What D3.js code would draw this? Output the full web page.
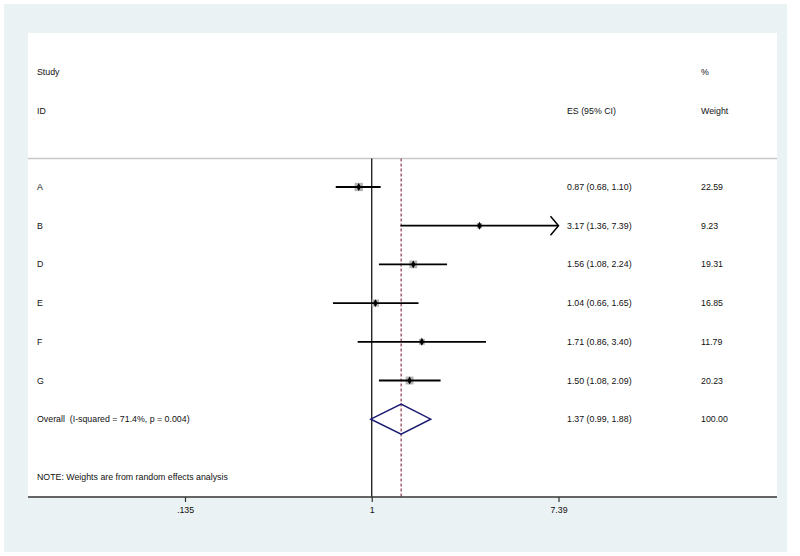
<!DOCTYPE html>
<html>
<head>
<meta charset="utf-8">
<script src="https://cdn.jsdelivr.net/npm/d3@7"></script>
<style>
  body { margin: 0; background: #fff; }
  text { font-family: "Liberation Sans", Arial, sans-serif; font-size: 8.8px; fill: #111; white-space: pre; }
</style>
</head>
<body>
<div id="chart"></div>
<script>
// study data
const studies = ["A", "B", "D", "E", "F", "G"];
const es = [0.87, 3.17, 1.56, 1.04, 1.71, 1.50];
const ciLow = [0.68, 1.36, 1.08, 0.66, 0.86, 1.08];
const ciHigh = [1.10, 7.39, 2.24, 1.65, 3.40, 2.09];
const weights = [22.59, 9.23, 19.31, 16.85, 11.79, 20.23];
const esLabels = ["0.87 (0.68, 1.10)", "3.17 (1.36, 7.39)", "1.56 (1.08, 2.24)",
  "1.04 (0.66, 1.65)", "1.71 (0.86, 3.40)", "1.50 (1.08, 2.09)"];
const weightLabels = ["22.59", "9.23", "19.31", "16.85", "11.79", "20.23"];

// pooled estimate
const overallES = 1.37, overallLow = 0.99, overallHigh = 1.88;
const overallLabel = "Overall  (I-squared = 71.4%, p = 0.004)";
const overallESLabel = "1.37 (0.99, 1.88)";
const overallWeightLabel = "100.00";

const tickValues = [Math.exp(-2), 1, Math.exp(2)];
const tickLabels = [".135", "1", "7.39"];

const W = 800, H = 556;
const plot = {left: 28, right: 777, top: 33, bottom: 497};

const svg = d3.select("#chart").append("svg")
  .attr("width", W).attr("height", H);

// outer panel + plot region
svg.append("rect").attr("x", 4).attr("y", 4).attr("width", 783).attr("height", 548)
  .attr("fill", "#eaf2f3");
svg.append("rect").attr("x", plot.left).attr("y", plot.top)
  .attr("width", plot.right - plot.left).attr("height", plot.bottom - plot.top)
  .attr("fill", "#fff");

const x = d3.scaleLog().domain([Math.exp(-2), Math.exp(2)]).range([185, 558.5]);
const xMax = Math.exp(2);
// row index -> y
const y = d3.scaleLinear().domain([0, 6]).range([187, 419.2]);

const colText = {study: 37, es: 567, weight: 701};

// headers
svg.append("text").attr("x", colText.study).attr("y", y(-3) + 4).text("Study");
svg.append("text").attr("x", colText.study).attr("y", y(-2) + 4).text("ID");
svg.append("text").attr("x", colText.es).attr("y", y(-2) + 4).text("ES (95% CI)");
svg.append("text").attr("x", colText.weight).attr("y", y(-3) + 4).text("%");
svg.append("text").attr("x", colText.weight).attr("y", y(-2) + 4).text("Weight");

// separator
svg.append("line").attr("x1", plot.left).attr("x2", plot.right)
  .attr("y1", 158.5).attr("y2", 158.5)
  .attr("stroke", "#c8c8c8").attr("stroke-width", 1.5);

// no-effect line
svg.append("line").attr("x1", x(1)).attr("x2", x(1))
  .attr("y1", 158.5).attr("y2", plot.bottom)
  .attr("stroke", "#000").attr("stroke-width", 1.2);

// overall effect dashed line
svg.append("line").attr("x1", x(overallES)).attr("x2", x(overallES))
  .attr("y1", 158.5).attr("y2", plot.bottom)
  .attr("stroke", "#8b3a4e").attr("stroke-width", 1.2)
  .attr("stroke-dasharray", "3,2");

const rows = studies.map((s, i) => ({
  study: s, es: es[i], lo: ciLow[i], hi: ciHigh[i], w: weights[i],
  esLabel: esLabels[i], wLabel: weightLabels[i], i: i
}));

const g = svg.append("g");

// weight boxes
const boxSide = w => 1.75 * Math.sqrt(w);
g.selectAll(".box").data(rows).enter().append("rect")
  .attr("class", "box")
  .attr("x", d => x(d.es) - boxSide(d.w) / 2)
  .attr("y", d => y(d.i) - boxSide(d.w) / 2)
  .attr("width", d => boxSide(d.w))
  .attr("height", d => boxSide(d.w))
  .attr("fill", "#b4b4b4");

// CI lines
g.selectAll(".ci").data(rows).enter().append("line")
  .attr("class", "ci")
  .attr("x1", d => x(d.lo)).attr("x2", d => x(Math.min(d.hi, xMax)))
  .attr("y1", d => y(d.i)).attr("y2", d => y(d.i))
  .attr("stroke", "#000").attr("stroke-width", 1.8);

// arrows where the CI reaches the axis limit
g.selectAll(".arrow").data(rows.filter(d => d.hi >= xMax)).enter().append("path")
  .attr("class", "arrow")
  .attr("d", d => {
    const ax = x(xMax), ay = y(d.i);
    return `M${ax - 8},${ay - 9.5}L${ax},${ay}L${ax - 8},${ay + 9.5}`;
  })
  .attr("fill", "none").attr("stroke", "#000").attr("stroke-width", 1.5);

// point estimates
g.selectAll(".pt").data(rows).enter().append("path")
  .attr("class", "pt")
  .attr("d", d3.symbol(d3.symbolDiamond, 18))
  .attr("transform", d => `translate(${x(d.es)},${y(d.i)})`)
  .attr("fill", "#000");

// text columns
g.selectAll(".lab").data(rows).enter().append("text")
  .attr("x", colText.study).attr("y", d => y(d.i) + 3).text(d => d.study);
g.selectAll(".esl").data(rows).enter().append("text")
  .attr("x", colText.es).attr("y", d => y(d.i) + 3).text(d => d.esLabel);
g.selectAll(".wl").data(rows).enter().append("text")
  .attr("x", colText.weight).attr("y", d => y(d.i) + 3).text(d => d.wLabel);

// overall diamond
const oy = y(6);
svg.append("path")
  .attr("d", `M${x(overallLow)},${oy}L${x(overallES)},${oy - 15}L${x(overallHigh)},${oy}L${x(overallES)},${oy + 15}Z`)
  .attr("fill", "none").attr("stroke", "#1a1a72").attr("stroke-width", 1.5);
svg.append("text").attr("x", colText.study).attr("y", oy + 3).text(overallLabel);
svg.append("text").attr("x", colText.es).attr("y", oy + 3).text(overallESLabel);
svg.append("text").attr("x", colText.weight).attr("y", oy + 3).text(overallWeightLabel);

svg.append("text").attr("x", colText.study).attr("y", y(7.5) + 3)
  .text("NOTE: Weights are from random effects analysis");

// x axis
svg.append("line").attr("x1", plot.left).attr("x2", plot.right)
  .attr("y1", plot.bottom).attr("y2", plot.bottom)
  .attr("stroke", "#333").attr("stroke-width", 1.5);
const axis = svg.append("g").attr("transform", `translate(0,${plot.bottom})`)
  .call(d3.axisBottom(x).tickValues(tickValues).tickSize(5).tickPadding(5)
    .tickFormat((d, i) => tickLabels[i]));
axis.select(".domain").remove();
axis.selectAll("line").attr("stroke", "#333").attr("stroke-width", 1.2);
axis.selectAll("text").attr("font-size", "8.8px")
  .style("font-family", "'Liberation Sans', Arial, sans-serif").attr("fill", "#111");
</script>
</body>
</html>
